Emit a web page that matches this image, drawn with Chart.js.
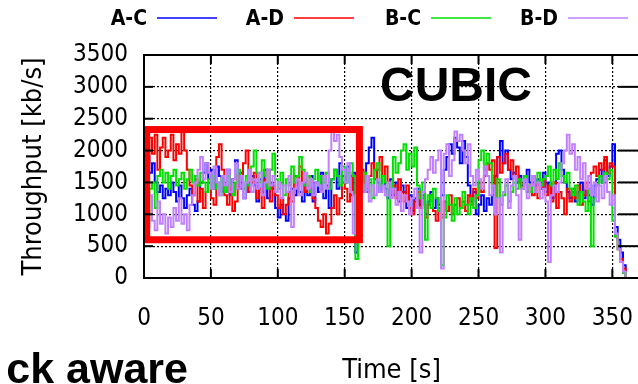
<!DOCTYPE html>
<html>
<head>
<meta charset="utf-8">
<script src="https://cdn.jsdelivr.net/npm/chart.js@4.4.0/dist/chart.umd.min.js"></script>
<style>
html, body { margin: 0; padding: 0; background: #fff; overflow: hidden; }
#wrap { width: 638px; height: 384px; overflow: hidden; }
canvas { display: block; }
</style>
</head>
<body>
<div id="wrap"><canvas id="main-chart" width="660" height="384"></canvas></div>
<script>
// throughput samples, one every STEP seconds, starting at t = 0
var STEP = 2;
var seriesLabels = ["A-C", "A-D", "B-C", "B-D"];
var seriesColors = ["#0000ff", "#ff0000", "#00e000", "#c080ff"];

var acData = [
  1700,1900,1650,1800,1500,1350,1450,1250,1400,1300,
  1500,1350,1200,1450,1250,1100,1300,1400,1150,1050,
  1200,1500,1650,1800,1550,1700,1400,1750,1600,1350,
  1450,1700,1300,1550,1850,1400,1650,1250,1500,1350,
  1600,1450,1200,1550,1350,1700,1250,1500,1400,1100,
  950,1150,1000,900,1250,1400,1300,1500,1350,1200,
  1450,1300,1600,1200,1500,1350,1650,1250,1450,1100,
  1550,1700,1400,1800,1600,1500,1750,1300,1650,400,
  1450,1600,1350,1800,2050,2200,1700,1500,1350,1600,
  1400,1250,1550,1300,1500,1200,1450,1350,1100,1300,
  1050,1250,1400,1150,1300,1000,1200,1350,1100,1250,
  1150,1300,1700,1900,2100,1950,2200,2050,1800,2150,
  1900,1450,1200,1350,1000,1150,1300,1050,1250,1150,
  1300,1600,1900,2150,1800,2000,1700,1550,1650,1500,
  1600,1450,1550,1700,1500,1600,1450,1550,1400,1650,
  1350,1500,1250,1450,1950,2000,1700,1500,1350,1250,
  1400,1200,1350,1500,1250,1400,1300,1150,1450,1550,
  1700,1500,1850,1600,1750,2100,800,600,400,200,
  0
];
var adData = [
  2100,1800,2200,1950,2250,1700,2050,2200,1900,2000,
  2250,1850,2100,1950,2300,2000,1700,1450,1300,1550,
  1200,1400,1100,1350,1500,1250,1150,1900,2100,1700,
  1300,1150,1450,1050,1200,1600,1400,1800,2000,1350,
  1500,1650,1250,1400,1100,1550,1700,1200,1450,1300,
  1100,1250,1000,1150,1350,1200,1600,1450,1750,1500,
  1350,1600,1400,1250,1100,900,800,1000,700,850,
  1100,1300,1000,1250,1500,1400,1200,1600,1350,1250,
  1400,1700,1500,1350,1600,1800,1550,1700,1900,1600,
  1750,1500,1300,1450,1250,1550,1350,1200,1450,1100,
  1000,1200,1350,1100,1250,950,1150,1300,1050,900,
  1100,950,1200,1050,1300,1000,1150,1250,1100,1200,
  1050,1300,1150,1400,1250,1500,1350,1600,1800,1700,
  1850,470,1900,1650,1800,1950,1700,1850,1600,1750,
  1500,1400,1550,1350,1450,1300,1500,1250,1400,1550,
  1300,1450,1200,1500,1100,1350,1250,1000,1400,1200,
  1350,1250,1450,1150,1300,1500,1200,1650,1750,1600,
  1800,1700,1900,1650,1800,1750,650,450,300,150,
  0
];
var bcData = [
  1200,900,1400,1500,1100,1600,1700,1500,1650,1400,
  1600,1700,1450,1550,1650,1400,1550,1700,1500,1600,
  1450,1650,1500,1350,1550,1600,1400,1500,1300,1550,
  1350,1600,1450,1300,1500,1700,1550,1400,1600,1450,
  1750,2000,1650,1500,1850,1600,1400,1700,1950,1550,
  1400,1650,1300,1550,1450,1750,1500,1600,1900,1700,
  1450,1600,1350,1550,1700,1450,1600,1500,1650,1400,
  1550,1700,1600,1450,1750,1500,1650,1800,1600,300,
  1500,1350,1650,1400,1550,1250,1700,1800,1450,1600,
  1500,500,1350,1900,1650,1800,2000,2100,1700,1950,
  1750,2050,1450,1250,1500,600,1300,1100,1400,1250,
  1050,200,950,1300,1150,900,1250,1000,1100,1350,
  1150,1000,1250,1100,1300,1850,2000,1700,1950,1800,
  1400,1250,1550,1150,1300,1450,1200,1350,1500,1400,
  1550,1400,1600,1450,1350,1600,1500,1650,1450,1550,
  1600,1750,1450,1700,1550,1800,1600,1500,1650,1400,
  1300,1450,1150,1350,1200,1050,1400,500,1250,1450,
  1600,1500,1650,1550,1700,900,650,450,250,80,
  0
];
var bdData = [
  1100,800,1300,900,750,1200,850,1000,700,950,
  800,1100,900,1250,850,1000,750,1150,1300,1500,
  1700,1900,1550,1800,1650,1400,1750,1500,1300,1600,
  1450,1700,1350,1550,1800,1400,1600,1250,1500,1700,
  1350,1550,1400,1650,1300,1500,1700,1450,1600,1350,
  1500,1250,1450,1350,1600,800,1400,1550,1300,1500,
  1650,1400,1550,1300,1500,1450,1350,1600,1400,2000,
  2300,2150,2250,1900,1700,1500,1800,1350,700,1300,
  1250,1500,1350,1600,1200,1450,1300,1550,1350,1450,
  1300,1500,1250,1400,1150,1350,1050,1300,1200,1000,
  1250,1400,1100,400,1350,1550,1700,1900,1650,1850,
  2000,150,1950,2100,1600,1850,2300,2150,2250,2000,
  1800,2100,1600,1450,1700,1550,1400,1750,1600,1300,
  1450,1000,1250,400,1350,1550,1100,1450,1600,1300,
  600,1400,1550,1250,1450,1600,1350,1500,1250,1400,
  1200,250,1300,1450,1350,1500,1800,2000,2250,1950,
  2100,1700,1900,1550,1800,1400,1600,1300,1500,1200,
  1450,1250,1600,1350,1150,1300,700,450,250,100,
  0
];

var xTicks = [0, 50, 100, 150, 200, 250, 300, 350];
var yTicks = [0, 500, 1000, 1500, 2000, 2500, 3000, 3500];
var X_MAX = 370;

// red highlight box (data units)
var boxX = [2, 161];
var boxY = [600, 2330];

var tickFont = "'DejaVu Sans Condensed', 'DejaVu Sans', sans-serif";

function toPoints(values) {
  return values.map(function (v, i) { return { x: i * STEP, y: v }; });
}

var allData = [acData, adData, bcData, bdData];
var datasets = allData.map(function (vals, i) {
  return {
    label: seriesLabels[i],
    data: toPoints(vals),
    borderColor: seriesColors[i],
    backgroundColor: seriesColors[i],
    borderWidth: 2,
    pointRadius: 0,
    stepped: true,
    order: 4 - i
  };
});

function line(ctx, x1, y1, x2, y2) {
  ctx.beginPath();
  ctx.moveTo(x1, y1);
  ctx.lineTo(x2, y2);
  ctx.stroke();
}

var decorations = {
  id: 'decorations',
  afterDatasetsDraw: function (chart) {
    var ctx = chart.ctx, a = chart.chartArea;
    var xs = chart.scales.x, ys = chart.scales.y;
    ctx.save();

    // highlight box
    ctx.strokeStyle = '#ff0000';
    ctx.lineWidth = 7;
    var bx0 = xs.getPixelForValue(boxX[0]), bx1 = xs.getPixelForValue(boxX[1]);
    var by0 = ys.getPixelForValue(boxY[1]), by1 = ys.getPixelForValue(boxY[0]);
    ctx.strokeRect(bx0, by0, bx1 - bx0, by1 - by0);

    // frame and inward ticks
    ctx.strokeStyle = '#000';
    ctx.lineWidth = 2;
    ctx.strokeRect(a.left, a.top, a.right - a.left, a.bottom - a.top);
    xTicks.forEach(function (v) {
      var px = xs.getPixelForValue(v);
      line(ctx, px, a.bottom, px, a.bottom - 9);
      line(ctx, px, a.top, px, a.top + 9);
    });
    yTicks.forEach(function (v) {
      var py = ys.getPixelForValue(v);
      line(ctx, a.left, py, a.left + 9, py);
      line(ctx, a.right, py, a.right - 21, py);
    });

    // key: label then line sample
    ctx.font = 'bold 21px ' + tickFont;
    ctx.textAlign = 'right';
    ctx.textBaseline = 'middle';
    ctx.lineWidth = 1.6;
    for (var i = 0; i < seriesLabels.length; i++) {
      var tx = 147 + i * 137;
      ctx.fillStyle = '#000';
      ctx.fillText(seriesLabels[i], tx, 20);
      ctx.strokeStyle = seriesColors[i];
      line(ctx, tx + 10, 18, tx + 70, 18);
    }

    ctx.fillStyle = '#000';
    ctx.textBaseline = 'alphabetic';
    ctx.font = "bold 48px 'Liberation Sans', Arial, sans-serif";
    ctx.textAlign = 'center';
    ctx.fillText('CUBIC', 456, 101);
    ctx.font = "bold 43px 'Liberation Sans', Arial, sans-serif";
    ctx.textAlign = 'right';
    ctx.fillText('ck aware', 188, 383);
    ctx.restore();
  }
};

var mainChart = new Chart(document.getElementById('main-chart'), {
  type: 'line',
  data: { datasets: datasets },
  plugins: [decorations],
  options: {
    responsive: false,
    animation: false,
    devicePixelRatio: 1,
    layout: { padding: { top: 55, right: 20, bottom: 0, left: 0 } },
    plugins: {
      legend: { display: false },
      tooltip: { enabled: false }
    },
    scales: {
      x: {
        type: 'linear',
        min: 0,
        max: X_MAX,
        afterFit: function (scale) { scale.height = 106; },
        ticks: {
          stepSize: 50,
          includeBounds: false,
          maxRotation: 0,
          padding: 26,
          color: '#000',
          font: { family: tickFont, size: 24 },
          callback: function (v) { return String(v); }
        },
        grid: { color: '#000', lineWidth: 1.2, drawTicks: false },
        border: { display: true, color: '#000', width: 2, dash: [2, 2] },
        title: {
          display: true,
          text: 'Time [s]',
          color: '#000',
          font: { family: tickFont, size: 27, lineHeight: 1 },
          padding: { top: 0, bottom: 0 }
        }
      },
      y: {
        min: 0,
        max: 3500,
        afterFit: function (scale) { scale.width = 144; },
        ticks: {
          stepSize: 500,
          padding: 16,
          color: '#000',
          font: { family: tickFont, size: 24 },
          callback: function (v) { return String(v); }
        },
        grid: { color: '#000', lineWidth: 1.2, drawTicks: false },
        border: { display: true, color: '#000', width: 2, dash: [2, 2] },
        title: {
          display: true,
          text: 'Throughput [kb/s]',
          color: '#000',
          font: { family: tickFont, size: 27, lineHeight: 1 },
          padding: { top: 20, bottom: 0 }
        }
      }
    }
  }
});
</script>
</body>
</html>
